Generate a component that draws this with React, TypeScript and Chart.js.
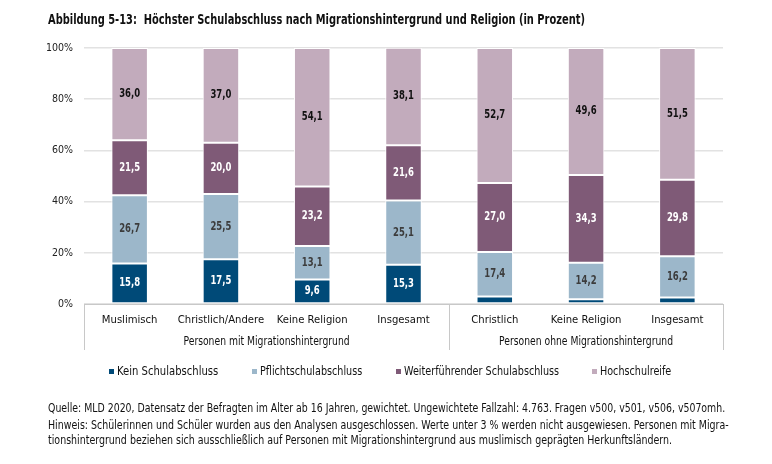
import React, { useEffect, useLayoutEffect, useRef } from "react";
import { Chart, registerables } from "chart.js";

Chart.register(...registerables);

const categories = [
  "Muslimisch",
  "Christlich/Andere",
  "Keine Religion",
  "Insgesamt",
  "Christlich",
  "Keine Religion",
  "Insgesamt",
];
const groupLabels = ["Personen mit Migrationshintergrund", "Personen ohne Migrationshintergrund"];
const groupSizes = [4, 3];

const seriesNames = ["Kein Schulabschluss", "Pflichtschulabschluss", "Weiterführender Schulabschluss", "Hochschulreife"];
const keinSchulabschluss = [15.8, 17.5, 9.6, 15.3, 2.9, 1.9, 2.5];
const pflichtschulabschluss = [26.7, 25.5, 13.1, 25.1, 17.4, 14.2, 16.2];
const weiterfuehrend = [21.5, 20.0, 23.2, 21.6, 27.0, 34.3, 29.8];
const hochschulreife = [36.0, 37.0, 54.1, 38.1, 52.7, 49.6, 51.5];
const yTicks = [0, 20, 40, 60, 80, 100];

const colors = ["#004a78", "#9cb7ca", "#7f5a77", "#c2abbc"];
const labelColors = ["#ffffff", "#3c3c3c", "#ffffff", "#111111"];

const FONT = "'Liberation Sans Narrow', 'DejaVu Sans Condensed', 'Arial Narrow', sans-serif";
const SQUISH = 0.82;

const valueLabelPlugin = {
  id: "valueLabels",
  afterDatasetsDraw(chart: any) {
    const ctx = chart.ctx;
    chart.data.datasets.forEach((ds: any, di: number) => {
      const meta = chart.getDatasetMeta(di);
      meta.data.forEach((el: any, i: number) => {
        const v = ds.data[i];
        if (v < 3) return;
        ctx.save();
        ctx.font = `bold 11.5px ${FONT}`;
        ctx.textAlign = "center";
        ctx.textBaseline = "middle";
        ctx.fillStyle = labelColors[di];
        ctx.translate(el.x, (el.y + el.base) / 2);
        ctx.scale(SQUISH, 1);
        ctx.fillText(v.toFixed(1).replace(".", ","), 0, 0);
        ctx.restore();
      });
    });
  },
};

const groupPlugin = {
  id: "groups",
  afterDraw(chart: any) {
    const ctx = chart.ctx;
    const xs = chart.scales.x;
    const bottom = chart.chartArea.bottom;
    const step = xs.getPixelForValue(1) - xs.getPixelForValue(0);
    const bounds: number[] = [];
    let idx = 0;
    bounds.push(xs.getPixelForValue(0) - step / 2);
    groupSizes.forEach((n) => {
      idx += n;
      bounds.push(xs.getPixelForValue(idx - 1) + step / 2);
    });
    ctx.save();
    ctx.strokeStyle = "#c8c8c8";
    ctx.lineWidth = 1;
    bounds.forEach((b) => {
      const x = Math.round(b) + 0.5;
      ctx.beginPath();
      ctx.moveTo(x, bottom);
      ctx.lineTo(x, bottom + 46);
      ctx.stroke();
    });
    ctx.restore();
    groupLabels.forEach((g, i) => {
      ctx.save();
      ctx.fillStyle = "#111111";
      ctx.font = `12.5px ${FONT}`;
      ctx.textAlign = "center";
      ctx.textBaseline = "middle";
      ctx.translate((bounds[i] + bounds[i + 1]) / 2, bottom + 38);
      ctx.scale(SQUISH, 1);
      ctx.fillText(g, 0, 0);
      ctx.restore();
    });
  },
};

function Fit(props: { left: number; cy: number; width: number; size: number; bold?: boolean; children: any }) {
  const ref = useRef<HTMLSpanElement>(null);
  useLayoutEffect(() => {
    const el = ref.current!;
    el.style.transform = "none";
    const w = el.offsetWidth;
    if (w > 0) el.style.transform = `scaleX(${props.width / w})`;
  }, []);
  return (
    <span
      ref={ref}
      style={{
        position: "absolute",
        left: props.left,
        top: props.cy - 8,
        height: 16,
        lineHeight: "16px",
        fontSize: props.size,
        fontWeight: props.bold ? "bold" : "normal",
        whiteSpace: "nowrap",
        transformOrigin: "0 0",
      }}
    >
      {props.children}
    </span>
  );
}

export default function App() {
  const ref = useRef<HTMLCanvasElement>(null);
  useEffect(() => {
    document.body.style.margin = "0";
    const mk = (d: number[], i: number) => ({
      label: seriesNames[i],
      data: d,
      backgroundColor: colors[i],
      borderColor: "#ffffff",
      borderWidth: 1,
      borderSkipped: false,
      categoryPercentage: 1,
      barPercentage: 0.4,
    });
    const chart = new Chart(ref.current!, {
      type: "bar",
      data: {
        labels: categories,
        datasets: [
          mk(keinSchulabschluss, 0),
          mk(pflichtschulabschluss, 1),
          mk(weiterfuehrend, 2),
          mk(hochschulreife, 3),
        ],
      },
      options: {
        animation: false,
        responsive: false,
        devicePixelRatio: 1,
        layout: { padding: { top: 48, left: 0, right: 49, bottom: 0 } },
        plugins: { legend: { display: false }, tooltip: { enabled: false } },
        scales: {
          x: {
            stacked: true,
            grid: { display: false, drawTicks: false },
            border: { display: true, color: "#c8c8c8" },
            ticks: { color: "#111111", font: { family: FONT, size: 11.2 }, padding: 9, maxRotation: 0, autoSkip: false },
            afterFit: (s: any) => {
              s.height = 464 - 304;
            },
          },
          y: {
            stacked: true,
            min: 0,
            max: 100,
            afterBuildTicks: (s: any) => {
              s.ticks = yTicks.map((v) => ({ value: v }));
            },
            grid: { color: "#e2e2e2", lineWidth: 1.5, drawTicks: false },
            border: { display: false },
            ticks: {
              color: "#222222",
              font: { family: FONT, size: 10.5 },
              padding: 11,
              callback: (v: any) => v + "%",
            },
            afterFit: (s: any) => {
              s.width = 84;
            },
          },
        },
      },
      plugins: [valueLabelPlugin, groupPlugin],
    });
    return () => chart.destroy();
  }, []);

  const legendText = [117, 260, 404, 600];
  const legendWidth = [101, 102, 155, 71];
  return (
    <div style={{ position: "relative", width: 772, height: 464, background: "#fff", fontFamily: FONT, color: "#111" }}>
      <canvas ref={ref} width={772} height={464} style={{ position: "absolute", left: 0, top: 0 }} />
      <Fit left={48} cy={19} width={537} size={14} bold>
        Abbildung 5-13:&nbsp; Höchster Schulabschluss nach Migrationshintergrund und Religion (in Prozent)
      </Fit>
      {seriesNames.map((n, i) => (
        <React.Fragment key={n}>
          <span style={{ position: "absolute", left: legendText[i] - 8, top: 369, width: 5, height: 5, background: colors[i] }} />
          <Fit left={legendText[i]} cy={371} width={legendWidth[i]} size={12.5}>
            {n}
          </Fit>
        </React.Fragment>
      ))}
      <Fit left={48} cy={408} width={677} size={12.5}>
        Quelle: MLD 2020, Datensatz der Befragten im Alter ab 16 Jahren, gewichtet. Ungewichtete Fallzahl: 4.763. Fragen v500, v501, v506, v507omh.
      </Fit>
      <Fit left={48} cy={425} width={681} size={12.5}>
        Hinweis: Schülerinnen und Schüler wurden aus den Analysen ausgeschlossen. Werte unter 3 % werden nicht ausgewiesen. Personen mit Migra-
      </Fit>
      <Fit left={48} cy={440} width={624} size={12.5}>
        tionshintergrund beziehen sich ausschließlich auf Personen mit Migrationshintergrund aus muslimisch geprägten Herkunftsländern.
      </Fit>
    </div>
  );
}
